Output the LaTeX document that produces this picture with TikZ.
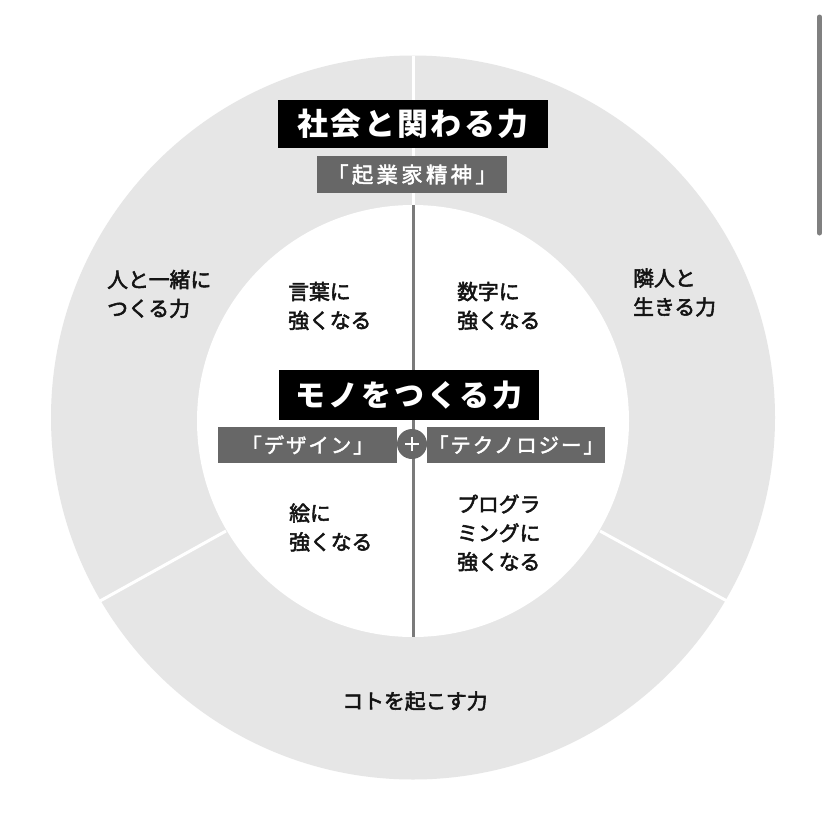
\documentclass[tikz,border=0pt]{standalone}
\usepackage{fontspec}
\newfontfamily\jp{Noto Sans CJK JP}
\newfontfamily\jpm[FakeBold=2.6]{Noto Sans CJK JP}
\newfontfamily\jpsub[FakeBold=2.0,LetterSpace=9]{Noto Sans CJK JP}
\newfontfamily\jpkig[FakeBold=2.0,LetterSpace=15]{Noto Sans CJK JP}
\newfontfamily\jpt[LetterSpace=8]{Noto Sans CJK JP}
\newfontfamily\jptm[LetterSpace=10]{Noto Sans CJK JP}
\begin{document}
\begin{tikzpicture}[x=1pt,y=-1pt]
\definecolor{ringgray}{HTML}{E6E6E6}
\definecolor{boxgray}{HTML}{676767}
\definecolor{linegray}{HTML}{7A7A7A}
\definecolor{barcol}{HTML}{808080}
\tikzset{
  titlebox/.style={fill=black,text=white,inner sep=0pt,font=\jpt\bfseries\fontsize{31}{31}\selectfont},
  subbox/.style={fill=boxgray,text=white,inner sep=0pt,font=\jpsub\fontsize{20.5}{20.5}\selectfont},
  lbl/.style={inner sep=0pt,align=left,font=\jpm\fontsize{20.8}{28.8}\selectfont,text=black!92},
}
\useasboundingbox (0,0) rectangle (828,830);
\fill[white] (0,0) rectangle (828,830);
% scrollbar
\draw[barcol,line width=5pt,line cap=round] (819.5,17) -- (819.5,233);
% rings
\coordinate (oc) at (413,417.5);
\coordinate (ic) at (413,421);
\fill[ringgray] (oc) circle[radius=362pt];
\fill[white] (ic) circle[radius=216pt];
% divider lines in ring
\coordinate (t1) at (413,56);
\coordinate (t2) at (413,206);
\coordinate (l1) at (226,531);
\coordinate (l2) at (100,601);
\coordinate (r1) at (600,531);
\coordinate (r2) at (727,601);
\draw[white,line width=3pt] (t1) -- (t2);
\draw[white,line width=3pt] (l1) -- (l2);
\draw[white,line width=3pt] (r1) -- (r2);
% inner vertical line
\coordinate (v1) at (413,205);
\coordinate (v2) at (413,637);
\draw[linegray,line width=3pt] (v1) -- (v2);
% titles
\node[titlebox,minimum width=270pt,minimum height=48pt] (shakai) at (413,124) {社会と関わる力};
\node[subbox,minimum width=190pt,minimum height=37pt,font=\jpkig\fontsize{21.5}{21.5}\selectfont] (kigyo) at (412,174.5) {「起業家精神」};
\node[titlebox,minimum width=260pt,minimum height=50pt,font=\jptm\bfseries\fontsize{30}{30}\selectfont] (mono) at (409,395) {モノをつくる力};
\node[subbox,minimum width=179pt,minimum height=36pt] (design) at (307.5,445) {「デザイン」};
\node[subbox,minimum width=178pt,minimum height=36pt] (tech) at (516,445) {「テクノロジー」};
\node[circle,fill=boxgray,minimum size=30pt,inner sep=0pt] (plus) at (412,444) {};
\draw[white,line width=1.6pt] ([xshift=-7pt]plus.center) -- ([xshift=7pt]plus.center);
\draw[white,line width=1.6pt] ([yshift=-7pt]plus.center) -- ([yshift=7pt]plus.center);
% labels
\node[lbl,anchor=west] (hito) at (107,294) {人と一緒に\\つくる力};
\node[lbl,anchor=west] (rinjin) at (633,292.5) {隣人と\\生きる力};
\node[lbl,anchor=west] (kotoba) at (288,306) {言葉に\\強くなる};
\node[lbl,anchor=west] (suji) at (457,306) {数字に\\強くなる};
\node[lbl,anchor=west] (e) at (289,527.5) {絵に\\強くなる};
\node[lbl,anchor=west] (prog) at (457,533) {プログラ\\ミングに\\強くなる};
\node[lbl] (koto) at (415,701) {コトを起こす力};
\end{tikzpicture}
\end{document}
